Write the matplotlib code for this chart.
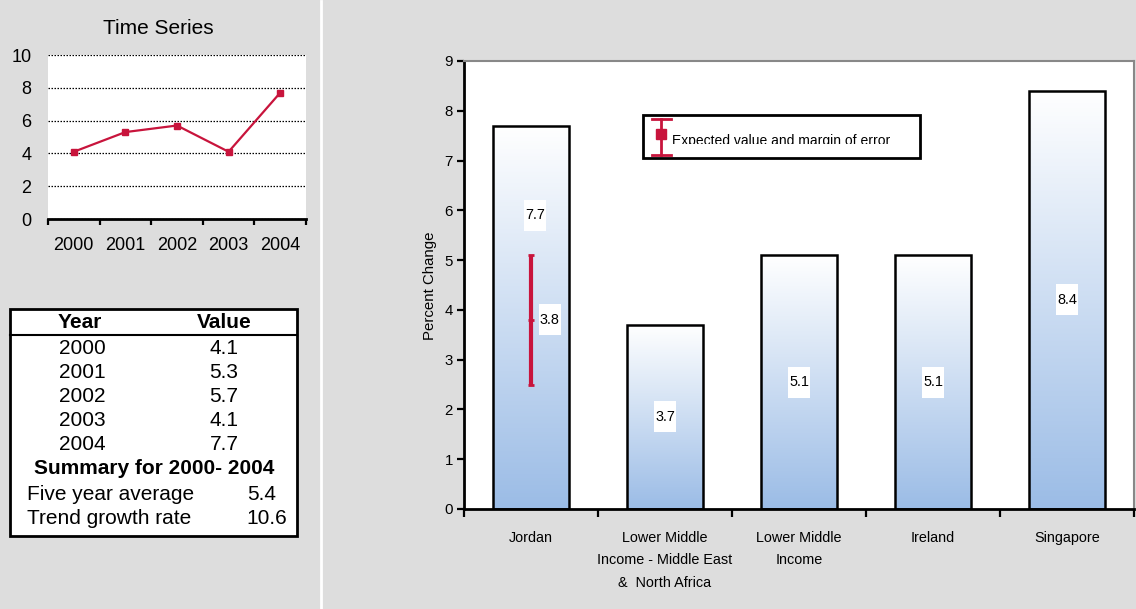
import matplotlib
matplotlib.use("Agg")
import matplotlib.pyplot as plt
import numpy as np
from matplotlib import font_manager
from matplotlib.patches import Rectangle
from matplotlib.lines import Line2D
from matplotlib.colors import LinearSegmentedColormap
from matplotlib.transforms import Bbox, TransformedBbox, Affine2D, ScaledTranslation

# ---- data ----
years = ["2000", "2001", "2002", "2003", "2004"]
series_values = [4.1, 5.3, 5.7, 4.1, 7.7]
summary_title = "Summary for 2000- 2004"
five_year_average = 5.4
trend_growth_rate = 10.6
ts_yticks = [0, 2, 4, 6, 8, 10]

categories = ["Jordan",
              "Lower Middle\nIncome - Middle East\n&  North Africa",
              "Lower Middle\nIncome",
              "Ireland",
              "Singapore"]
percent_change = [7.7, 3.7, 5.1, 5.1, 8.4]
expected_value = 3.8
margin_of_error = 1.3
bar_yticks = list(range(10))

# ---- styling ----
plt.rcParams["font.family"] = ["Liberation Sans", "DejaVu Sans"]
installed = {f.name for f in font_manager.fontManager.ttflist}
narrow_name = next((n for n in ("Liberation Sans Narrow", "Arial Narrow")
                    if n in installed), None)
if narrow_name:
    NARROW = [narrow_name, "Liberation Sans"]
    NSCALE = 1.0
else:
    NARROW = ["Liberation Sans"]
    NSCALE = 0.9

RED = "#c8143c"
BG = "#dddddd"
W, H = 1136, 609

fig = plt.figure(figsize=(W / 100, H / 100), dpi=100, facecolor=BG)


def fx(x):
    return x / W


def fy(y):
    return 1 - y / H


def rect(l, t, r, b):
    return [l / W, 1 - b / H, (r - l) / W, (b - t) / H]


# divider between the two panels
fig.add_artist(Line2D([fx(320.5), fx(320.5)], [fy(1), fy(609)],
                      transform=fig.transFigure, color="white", lw=2))

# ---- time series panel ----
ax1 = fig.add_axes(rect(48, 55, 306, 219))
ax1.set_facecolor("white")
x = np.arange(len(years))
ax1.plot(x, series_values, color=RED, lw=1.6, marker="s", ms=4.5,
         clip_on=False, zorder=3)
ax1.set_xlim(-0.5, len(years) - 0.5)
ax1.set_ylim(ts_yticks[0], ts_yticks[-1])
ax1.set_yticks(ts_yticks)
ax1.yaxis.grid(True, color="black", lw=0.9, ls=(0, (1.2, 1.2)))
ax1.set_axisbelow(True)
for s in ("left", "right", "top"):
    ax1.spines[s].set_visible(False)
ax1.spines["bottom"].set_linewidth(2)
ax1.set_xticks(np.arange(-0.5, len(years), 1.0))
ax1.set_xticklabels([])
ax1.set_xticks(x, minor=True)
ax1.set_xticklabels(years, minor=True)
ax1.tick_params(axis="x", which="major", length=4, width=1.6, direction="out")
ax1.tick_params(axis="x", which="minor", length=0, pad=13, labelsize=13)
ax1.tick_params(axis="y", length=0, pad=12, labelsize=13)
fig.text(fx(158), fy(28), "Time Series", ha="center", va="center", fontsize=15)

# ---- summary table ----
TFS = 15
fig.add_artist(Rectangle((fx(10), fy(536)), (297 - 10) / W, (536 - 309) / H,
                         transform=fig.transFigure, facecolor="white",
                         edgecolor="black", lw=2))
fig.add_artist(Line2D([fx(10), fx(297)], [fy(335), fy(335)],
                      transform=fig.transFigure, color="black", lw=1.5))
fig.text(fx(80), fy(322), "Year", ha="center", va="center",
         fontsize=TFS, fontweight="bold")
fig.text(fx(224), fy(322), "Value", ha="center", va="center",
         fontsize=TFS, fontweight="bold")
row_y = [348.5, 372.5, 396.5, 420.5, 444.5]
for yr, val, ry in zip(years, series_values, row_y):
    fig.text(fx(82), fy(ry), yr, ha="center", va="center", fontsize=TFS)
    fig.text(fx(224), fy(ry), f"{val:.1f}", ha="center", va="center", fontsize=TFS)
fig.text(fx(154), fy(468), summary_title, ha="center", va="center",
         fontsize=TFS, fontweight="bold")
fig.text(fx(27), fy(494), "Five year average", ha="left", va="center", fontsize=TFS)
fig.text(fx(262), fy(494), f"{five_year_average:.1f}", ha="center", va="center", fontsize=TFS)
fig.text(fx(27), fy(518), "Trend growth rate", ha="left", va="center", fontsize=TFS)
fig.text(fx(267), fy(518), f"{trend_growth_rate:.1f}", ha="center", va="center", fontsize=TFS)

# ---- bar chart panel ----
ax2 = fig.add_axes(rect(464, 61, 1134, 509))
ax2.set_facecolor("white")
xb = np.arange(len(categories))
bar_w = 0.57
bars = ax2.bar(xb, percent_change, width=bar_w, facecolor="none",
               edgecolor="black", lw=1.8, zorder=3)

grad_cmap = LinearSegmentedColormap.from_list("barfill", ["#9bbce6", "#ffffff"])
grad = np.linspace(0, 1, 256).reshape(-1, 1)
for b in bars:
    x0 = b.get_x()
    h = b.get_height()
    ax2.imshow(grad, extent=[x0, x0 + bar_w, 0, h], origin="lower",
               cmap=grad_cmap, aspect="auto", zorder=2, interpolation="bilinear")

ax2.set_xlim(-0.5, len(categories) - 0.5)
ax2.set_ylim(bar_yticks[0], bar_yticks[-1])
ax2.set_aspect("auto")


def value_label(xd, yd, txt, wpx=22, hpx=31):
    """White label box of fixed pixel size centred on a data point."""
    tr = Affine2D() + ScaledTranslation(xd, yd, ax2.transData)
    ax2.add_artist(Rectangle((-wpx / 2, -hpx / 2), wpx, hpx, transform=tr,
                             facecolor="white", edgecolor="none", zorder=5))
    ax2.text(xd, yd, txt, ha="center", va="center", fontsize=11.5 * NSCALE,
             family=NARROW, zorder=6)


# error bar on the first bar
ax2.errorbar(0, expected_value, yerr=margin_of_error, color=RED, lw=3,
             capsize=2, capthick=3, marker="_", ms=5, mew=2, zorder=4)
value_label(0.14, expected_value, f"{expected_value}")

# value labels, centred in each bar (above the error bar where there is one)
for i, v in enumerate(percent_change):
    ly = v / 2
    lx = xb[i]
    if i == 0:
        ly = expected_value + margin_of_error + 0.8
        lx += 0.03
    value_label(lx, ly, f"{v}")

ax2.spines["left"].set_linewidth(2)
ax2.spines["bottom"].set_linewidth(2)
for s in ("top", "right"):
    ax2.spines[s].set_color("#888888")
    ax2.spines[s].set_linewidth(1.5)
ax2.set_yticks(bar_yticks)
ax2.tick_params(axis="y", length=5, width=1.6, direction="out", pad=3,
                labelsize=12 * NSCALE)
for lbl in ax2.get_yticklabels():
    lbl.set_family(NARROW)
ax2.set_xticks(np.arange(-0.5, len(categories), 1.0))
ax2.set_xticklabels([])
ax2.set_xticks(xb, minor=True)
ax2.set_xticklabels(categories, minor=True)
ax2.tick_params(axis="x", which="major", length=6, width=1.6, direction="out")
ax2.tick_params(axis="x", which="minor", length=0, pad=16,
                labelsize=11.5 * NSCALE)
for lbl in ax2.get_xticklabels(minor=True):
    lbl.set_family(NARROW)
    lbl.set_linespacing(1.75)

fig.text(fx(430), fy(286), "Percent Change", rotation=90, ha="center",
         va="center", fontsize=12 * NSCALE, family=NARROW)

# ---- legend box ----
fig.add_artist(Rectangle((fx(643), fy(158)), (920 - 643) / W, (158 - 115) / H,
                         transform=fig.transFigure, facecolor="white",
                         edgecolor="black", lw=2))
fig.add_artist(Line2D([fx(661), fx(661)], [fy(119), fy(155)],
                      transform=fig.transFigure, color=RED, lw=2))
for cy in (119, 155):
    fig.add_artist(Line2D([fx(652), fx(671)], [fy(cy), fy(cy)],
                          transform=fig.transFigure, color=RED, lw=2))
fig.add_artist(Line2D([fx(661)], [fy(133.5)], transform=fig.transFigure,
                      color=RED, marker="s", ms=6.5, lw=0))
leg_txt = fig.text(fx(672), fy(145), "Expected value and margin of error",
                   ha="left", va="baseline", fontsize=10)
leg_txt.set_clip_box(TransformedBbox(Bbox.from_extents(fx(643), fy(143.5), fx(920), fy(115)),
                                     fig.transFigure))
leg_txt.set_clip_on(True)

fig.savefig("out.png", dpi=100, facecolor=BG)
